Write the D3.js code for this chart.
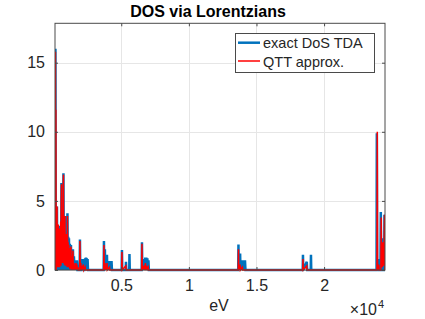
<!DOCTYPE html>
<html>
<head>
<meta charset="utf-8">
<script src="https://cdn.jsdelivr.net/npm/d3@7"></script>
<style>
  body { margin: 0; background: #fff; }
  text { font-family: "Liberation Sans", Arial, sans-serif; fill: #262626; }
</style>
</head>
<body>
<script>
// exact DoS (TDA), vertices of the plotted line
var exactEv = [110, 133, 160, 190, 215, 244, 270, 300, 325, 355, 380, 410, 440, 466, 495, 520, 550, 577, 605, 640, 680, 725, 750, 780, 805, 836, 865, 900, 930, 960, 990, 1021, 1050, 1080, 1105, 1132, 1160, 1200, 1240, 1280, 1310, 1350, 1390, 1427, 1460, 1500, 1540, 1575, 1600, 1625, 1650, 1675, 1700, 1723, 1760,
  1925, 1945, 1970, 2020, 2050, 2075, 2100, 2125, 2150, 2175, 2200, 2225, 2260, 2330, 2355, 2390, 2415, 2450, 2475, 2510, 2540,
  3700, 3720, 3745, 3790, 3815, 3860, 3885, 3942, 3965, 4000, 4025, 4070, 4095, 4140, 4165, 4210, 4235, 4280, 4312,
  5030, 5052, 5075, 5330, 5348, 5370, 5590, 5606, 5630,
  6510, 6531, 6555, 6700, 6725, 6780, 6805, 6850, 6875, 6930, 6955, 7011, 7040,
  13650, 13668, 13690, 13790, 13815, 13880, 13905, 13970, 13995, 14060, 14085, 14150, 14186,
  18420, 18438, 18460, 18720, 18745, 19010, 19030, 19050,
  23880, 23900, 23925, 24040, 24065, 24170, 24195, 24230, 24320, 24345, 24440, 24466, 24505];
var exactDos = [0, 16, 0, 1.3, 0, 4.6, 0, 2.8, 0, 3.1, 0, 2.5, 0, 3.2, 0, 2.6, 0, 6.3, 0, 3.6, 0, 7.0, 0, 3.6, 0, 3.9, 0, 2.6, 0, 2.0, 0, 4.1, 0, 2.4, 0, 2.3, 0, 1.9, 0, 1.8, 0, 1.3, 0, 1.5, 0, 1.0, 0, 0.7, 0, 0.7, 0, 0.7, 0, 0.7, 0,
  0, 2.2, 0, 0, 0.8, 0, 0.8, 0, 0.8, 0, 0.8, 0, 0, 0.85, 0, 0.9, 0, 0.85, 0, 0.8, 0,
  0, 2.1, 0, 1.5, 0, 1.1, 0, 1.1, 0, 0.65, 0, 0.65, 0, 0.65, 0, 0.65, 0, 0.65, 0,
  0, 1.45, 0, 0, 0.6, 0, 0, 1.15, 0,
  0, 2.0, 0, 0.8, 0, 0.9, 0, 0.9, 0, 0.85, 0, 0.7, 0,
  0, 1.85, 0, 1.2, 0, 0.7, 0, 0.7, 0, 0.7, 0, 0.7, 0,
  0, 1.1, 0, 0.6, 0, 0, 1.1, 0,
  0, 9.9, 0, 0.8, 0, 0, 4.2, 0, 2.3, 0, 0, 4.0, 0];

// QTT approximation, vertices of the plotted line
var qttEv = [110, 133, 150, 165, 185, 210, 230, 250, 270, 290, 310, 340, 360, 385, 405, 430, 450, 475, 495, 520, 540, 560, 577, 595, 620, 645, 670, 690, 710, 725, 745, 770, 790, 815, 836, 855, 880, 900, 930, 950, 980, 1000, 1021, 1040, 1070, 1090, 1120, 1140, 1170, 1190, 1220, 1240, 1280, 1300, 1340, 1360, 1400, 1427, 1450, 1500, 1520, 1560, 1580, 1650, 1670, 1720, 1740, 1800, 1820,
  1925, 1945, 1965, 2010, 2030, 2100, 2120, 2200, 2220, 2330, 2350,
  3700, 3720, 3740, 3800, 3820, 3880, 3900, 3950, 3970, 4130, 4150,
  5030, 5052, 5072, 5340, 5360,
  6510, 6531, 6550, 6680, 6700, 6790, 6810, 6880, 6900, 6990, 7010,
  13650, 13668, 13688, 13790, 13810, 13960, 13980,
  18420, 18438, 18458, 18720, 18740,
  23910, 23935, 23955, 24050, 24070, 24200, 24225, 24245, 24280, 24300, 24340, 24360, 24420, 24470, 24505];
var qttDos = [0, 15.8, 0, 11.6, 0, 4.0, 0.3, 4.6, 0.2, 2.8, 0.5, 3.3, 0.2, 2.0, 0.4, 3.0, 0.2, 2.8, 0.5, 3.5, 0.3, 5.0, 6.2, 0.5, 3.0, 0.6, 4.0, 0.5, 6.3, 6.9, 0.5, 3.3, 0.4, 3.8, 3.9, 0.3, 2.4, 0.3, 2.6, 0.4, 1.8, 0.2, 3.9, 0.3, 2.0, 0.2, 1.8, 0.2, 1.6, 0.1, 1.4, 0.1, 1.7, 0, 1.0, 0, 0.8, 1.4, 0, 0.5, 0, 0.3, 0, 0.5, 0, 0.4, 0, 0.2, 0,
  0, 2.1, 0, 0.5, 0, 0.3, 0, 0.4, 0, 0.2, 0,
  0, 1.8, 0, 0.5, 0, 0.3, 0, 0.5, 0, 0.2, 0,
  0, 1.3, 0, 0.3, 0,
  0, 1.9, 0, 0.3, 0, 0.5, 0, 0.3, 0, 0.2, 0,
  0, 1.5, 0, 0.4, 0, 0.2, 0,
  0, 0.8, 0, 0.3, 0,
  0, 10.0, 0, 0.4, 0, 0, 3.8, 0.3, 1.0, 0.2, 2.0, 0.3, 0.5, 4.0, 0];

var xTicks = [5000, 10000, 15000, 20000];
var xTickLabels = ["0.5", "1", "1.5", "2"];
var yTicks = [0, 5, 10, 15];
var seriesNames = ["exact DoS TDA", "QTT approx."];
var seriesColors = ["#0072bd", "#ff0000"];

var svg = d3.select('body').append('svg')
  .attr('width', 425)
  .attr('height', 319)
  .style('display', 'block');

svg.append('rect').attr('width', 425).attr('height', 319).attr('fill', '#fff');

var plotL = 55, plotR = 385, plotT = 23.3, plotB = 270;

var x = d3.scaleLinear().domain([100, 24505]).range([plotL, plotR]);
var y = d3.scaleLinear().domain([0, 17.85]).range([plotB, plotT]);

// grid
var grid = svg.append('g').attr('stroke', '#e6e6e6').attr('stroke-width', 1);
grid.selectAll('.gx').data(xTicks).enter().append('line')
  .attr('x1', function (d) { return Math.round(x(d)) + 0.5; })
  .attr('x2', function (d) { return Math.round(x(d)) + 0.5; })
  .attr('y1', plotT).attr('y2', plotB);
grid.selectAll('.gy').data(yTicks).enter().append('line')
  .attr('y1', function (d) { return Math.round(y(d)) + 0.5; })
  .attr('y2', function (d) { return Math.round(y(d)) + 0.5; })
  .attr('x1', plotL).attr('x2', plotR);

// data
svg.append('clipPath').attr('id', 'clip')
  .append('rect').attr('x', plotL).attr('y', plotT).attr('width', plotR - plotL).attr('height', plotB - plotT + 3);

function pts(xs, ys) { return xs.map(function (v, i) { return [v, ys[i]]; }); }

var line = d3.line()
  .x(function (d) { return x(d[0]); })
  .y(function (d) { return y(d[1]); });

var plot = svg.append('g').attr('clip-path', 'url(#clip)');
plot.append('path')
  .datum(pts(exactEv, exactDos))
  .attr('fill', 'none')
  .attr('stroke', seriesColors[0])
  .attr('stroke-width', 2.5)
  .attr('d', line);
plot.append('path')
  .datum(pts(qttEv, qttDos))
  .attr('fill', 'none')
  .attr('stroke', seriesColors[1])
  .attr('stroke-width', 1.5)
  .attr('d', line);

// axes
var axisColor = '#4a4a4a';
var xAxis = svg.append('g')
  .attr('transform', 'translate(0,' + plotB + ')')
  .call(d3.axisBottom(x).tickValues(xTicks)
    .tickFormat(function (d, i) { return xTickLabels[i]; })
    .tickSizeInner(-3).tickSizeOuter(0).tickPadding(9.5));
var yAxis = svg.append('g')
  .attr('transform', 'translate(' + plotL + ',0)')
  .call(d3.axisLeft(y).tickValues(yTicks)
    .tickSizeInner(-3).tickSizeOuter(0).tickPadding(10));
var xTop = svg.append('g')
  .attr('transform', 'translate(0,' + plotT + ')')
  .call(d3.axisTop(x).tickValues(xTicks).tickFormat('').tickSizeInner(-3).tickSizeOuter(0));
var yRight = svg.append('g')
  .attr('transform', 'translate(' + plotR + ',0)')
  .call(d3.axisRight(y).tickValues(yTicks).tickFormat('').tickSizeInner(-3).tickSizeOuter(0));

[xAxis, yAxis, xTop, yRight].forEach(function (g) {
  g.select('.domain').remove();
  g.selectAll('line').attr('stroke', axisColor);
  g.selectAll('text').attr('font-size', 16).attr('fill', '#262626')
    .attr('font-family', '"Liberation Sans", Arial, sans-serif');
});

svg.append('rect')
  .attr('x', plotL).attr('y', plotT)
  .attr('width', plotR - plotL).attr('height', plotB - plotT)
  .attr('fill', 'none').attr('stroke', axisColor).attr('stroke-width', 1);

// title and labels
svg.append('text')
  .attr('x', 208).attr('y', 16.7)
  .attr('text-anchor', 'middle')
  .attr('font-size', 16).attr('font-weight', 'bold')
  .style('fill', '#000')
  .text('DOS via Lorentzians');

svg.append('text')
  .attr('x', 219).attr('y', 311)
  .attr('text-anchor', 'middle')
  .attr('font-size', 16)
  .text('eV');

svg.append('text')
  .attr('x', 377).attr('y', 315)
  .attr('text-anchor', 'end')
  .attr('font-size', 16)
  .text('\u00d710');
svg.append('text')
  .attr('x', 378).attr('y', 308)
  .attr('font-size', 11)
  .text('4');

// legend
var legend = svg.append('g');
legend.append('rect')
  .attr('x', 235.5).attr('y', 33.5).attr('width', 139).attr('height', 39)
  .attr('fill', '#fff').attr('stroke', axisColor).attr('stroke-width', 1);
var legendY = [42.7, 61];
var entries = legend.selectAll('.entry').data(seriesNames).enter().append('g')
  .attr('transform', function (d, i) { return 'translate(0,' + legendY[i] + ')'; });
entries.append('line')
  .attr('x1', 238).attr('x2', 260)
  .attr('stroke', function (d, i) { return seriesColors[i]; })
  .attr('stroke-width', function (d, i) { return i == 0 ? 2.5 : 1.5; });
entries.append('text')
  .attr('x', 263).attr('y', 5.5)
  .attr('font-size', 14.5)
  .text(function (d) { return d; });
</script>
</body>
</html>
